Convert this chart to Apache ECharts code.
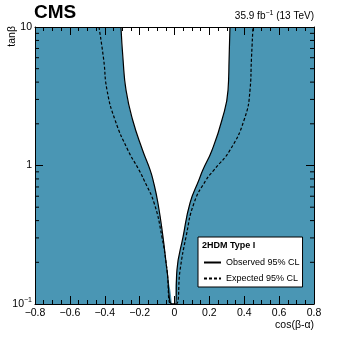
<!DOCTYPE html>
<html>
<head>
<meta charset="utf-8">
<script src="https://cdn.jsdelivr.net/npm/echarts@6/dist/echarts.min.js"></script>
<style>
  html, body { margin: 0; padding: 0; background: #fff; }
  #main { width: 349px; height: 340px; }
</style>
</head>
<body>
<div id="main"></div>
<script>
var tanBeta = [10, 5.8, 3.5, 2.13, 1.29, 0.93, 0.785, 0.536, 0.305, 0.176, 0.1];
// cos(β-α) of the observed 95% CL contour, left and right branch
var obsLeft  = [-0.307, -0.295, -0.278, -0.240, -0.183, -0.140, -0.123, -0.095, -0.066, -0.043, -0.015];
var obsRight = [0.318, 0.313, 0.307, 0.272, 0.215, 0.163, 0.140, 0.089, 0.049, 0.014, 0.006];
// cos(β-α) of the expected 95% CL contour
var expLeft  = [-0.433, -0.406, -0.387, -0.341, -0.267, -0.204, -0.175, -0.117, -0.072, -0.043, -0.020];
var expRight = [0.450, 0.441, 0.433, 0.399, 0.318, 0.227, 0.181, 0.112, 0.066, 0.032, 0.009];
// log-axis minor ticks
var yMinor = [0.2, 0.3, 0.4, 0.5, 0.6, 0.7, 0.8, 0.9, 2, 3, 4, 5, 6, 7, 8, 9];

var FONT = '"Liberation Sans", Arial, Helvetica, sans-serif';
var TEAL = '#4a96b4';
var SMOOTH = 0.5;

// left branch top->bottom, then right branch bottom->top
function contour(left, right) {
  var pts = [];
  for (var i = 0; i < left.length; i++) pts.push([left[i], tanBeta[i]]);
  for (var j = right.length - 1; j >= 0; j--) pts.push([right[j], tanBeta[j]]);
  return pts;
}
var obsLine = contour(obsLeft, obsRight);
var expLine = contour(expLeft, expRight);

// same contour pushed past the frame so the smoothing of the fill corners gets clipped
var last = tanBeta.length - 1;
var obsFill = [[obsRight[0], tanBeta[0] * 1.6], [obsLeft[0], tanBeta[0] * 1.6]]
  .concat(obsLine.slice(0, tanBeta.length))
  .concat([[obsLeft[last], tanBeta[last] * 0.6], [obsRight[last], tanBeta[last] * 0.6]])
  .concat(obsLine.slice(tanBeta.length));

var myChart = echarts.init(document.getElementById('main'));

function xLabel(v) {
  if (Math.abs(v) < 1e-9) return '0';
  return (v < 0 ? '\u2212' : '') + Math.abs(v).toFixed(1);
}
function yLabel(v) {
  if (v < 0.5) return '{b|10}{s|\u22121}';
  return '{b|' + Math.round(v) + '}';
}

var xCommon = {
  type: 'value', min: -0.8, max: 0.8, interval: 0.2, z: 10,
  axisLine: { show: true, onZero: false, lineStyle: { color: '#000', width: 1 } },
  axisTick: { show: true, inside: true, length: 8, lineStyle: { color: '#000' } },
  minorTick: { show: true, splitNumber: 4, length: 4, lineStyle: { color: '#000' } },
  splitLine: { show: false }
};
var yCommon = {
  type: 'log', logBase: 10, min: 0.1, max: 10, z: 10,
  axisLine: { show: true, onZero: false, lineStyle: { color: '#000', width: 1 } },
  axisTick: { show: true, inside: true, length: 8, lineStyle: { color: '#000' } },
  splitLine: { show: false }
};

myChart.setOption({
  animation: false,
  textStyle: { fontFamily: FONT },
  title: [
    { text: 'CMS', left: 34, top: 3, padding: 0,
      textStyle: { fontSize: 19, fontWeight: 'bold', color: '#000', fontFamily: FONT } },
    { text: '{n|35.9 fb}{s|\u22121}{n| (13 TeV)}', right: 35, top: 10, padding: 0,
      textStyle: { fontFamily: FONT, fontWeight: 'normal',
        rich: { n: { fontSize: 10, fontWeight: 'normal', color: '#000', fontFamily: FONT, lineHeight: 13 },
                s: { fontSize: 7, fontWeight: 'normal', color: '#000', fontFamily: FONT, lineHeight: 13, verticalAlign: 'top' } } } }
  ],
  grid: { left: 35, right: 35, top: 27, bottom: 36, show: true, backgroundColor: TEAL, borderWidth: 0 },
  xAxis: [
    Object.assign({}, xCommon, { position: 'bottom',
      axisLabel: { show: true, margin: 4, fontSize: 10.5, color: '#000', fontFamily: FONT, formatter: xLabel } }),
    Object.assign({}, xCommon, { position: 'top', axisLabel: { show: false } })
  ],
  yAxis: [
    Object.assign({}, yCommon, { position: 'left',
      axisLabel: { show: true, margin: 3, color: '#000', formatter: yLabel,
        rich: { b: { fontSize: 10.5, color: '#000', fontFamily: FONT, lineHeight: 14 },
                s: { fontSize: 7, color: '#000', fontFamily: FONT, lineHeight: 14, verticalAlign: 'top' } } } }),
    Object.assign({}, yCommon, { position: 'right', axisLabel: { show: false } })
  ],
  legend: {
    left: 198, top: 237, orient: 'vertical', padding: [21, 3, 4, 5],
    itemWidth: 17, itemHeight: 10, itemGap: 7,
    backgroundColor: '#fff', borderColor: '#000', borderWidth: 1, borderRadius: 0,
    itemStyle: { opacity: 0 },
    textStyle: { fontSize: 9, color: '#000', fontFamily: FONT },
    data: ['Observed 95% CL', 'Expected 95% CL']
  },
  graphic: [
    { type: 'text', x: 202, y: 246, z: 100, silent: true,
      style: { text: '2HDM Type I', font: 'bold 9px ' + FONT, fill: '#000', textVerticalAlign: 'middle' } },
    { type: 'text', x: 314, y: 325, z: 100, silent: true,
      style: { text: 'cos(\u03b2-\u03b1)', font: '10.5px ' + FONT, fill: '#000', textAlign: 'right', textVerticalAlign: 'middle' } },
    { type: 'text', x: 12, y: 26, rotation: Math.PI / 2, z: 100, silent: true,
      style: { text: 'tan\u03b2', font: '10.5px ' + FONT, fill: '#000', textAlign: 'right', textVerticalAlign: 'middle' } }
  ],
  series: [
    {
      // allowed region (white) inside the observed contour
      type: 'custom', silent: true, clip: true, z: 1,
      data: [[0, 1]],
      renderItem: function (params, api) {
        var pts = obsFill.map(function (p) { return api.coord(p); });
        return { type: 'polygon', shape: { points: pts, smooth: SMOOTH }, style: { fill: '#fff' } };
      }
    },
    {
      // log minor ticks on both vertical axes
      type: 'custom', silent: true, z: 5,
      data: yMinor.map(function (v) { return [-0.8, v]; }),
      renderItem: function (params, api) {
        var y = api.coord([0, api.value(1)])[1];
        var cs = params.coordSys;
        var st = { stroke: '#000', lineWidth: 1 };
        return { type: 'group', children: [
          { type: 'line', shape: { x1: cs.x, y1: y, x2: cs.x + 4, y2: y }, style: st },
          { type: 'line', shape: { x1: cs.x + cs.width - 4, y1: y, x2: cs.x + cs.width, y2: y }, style: st }
        ] };
      }
    },
    {
      name: 'Expected 95% CL', type: 'line', data: expLine, smooth: SMOOTH,
      symbol: 'none', z: 3, clip: true, itemStyle: { color: '#000' },
      lineStyle: { color: '#000', width: 1.2, type: [3, 2] }
    },
    {
      name: 'Observed 95% CL', type: 'line', data: obsLine, smooth: SMOOTH,
      symbol: 'none', z: 4, clip: true, itemStyle: { color: '#000' },
      lineStyle: { color: '#000', width: 1.2, type: 'solid' }
    }
  ]
});
</script>
</body>
</html>
